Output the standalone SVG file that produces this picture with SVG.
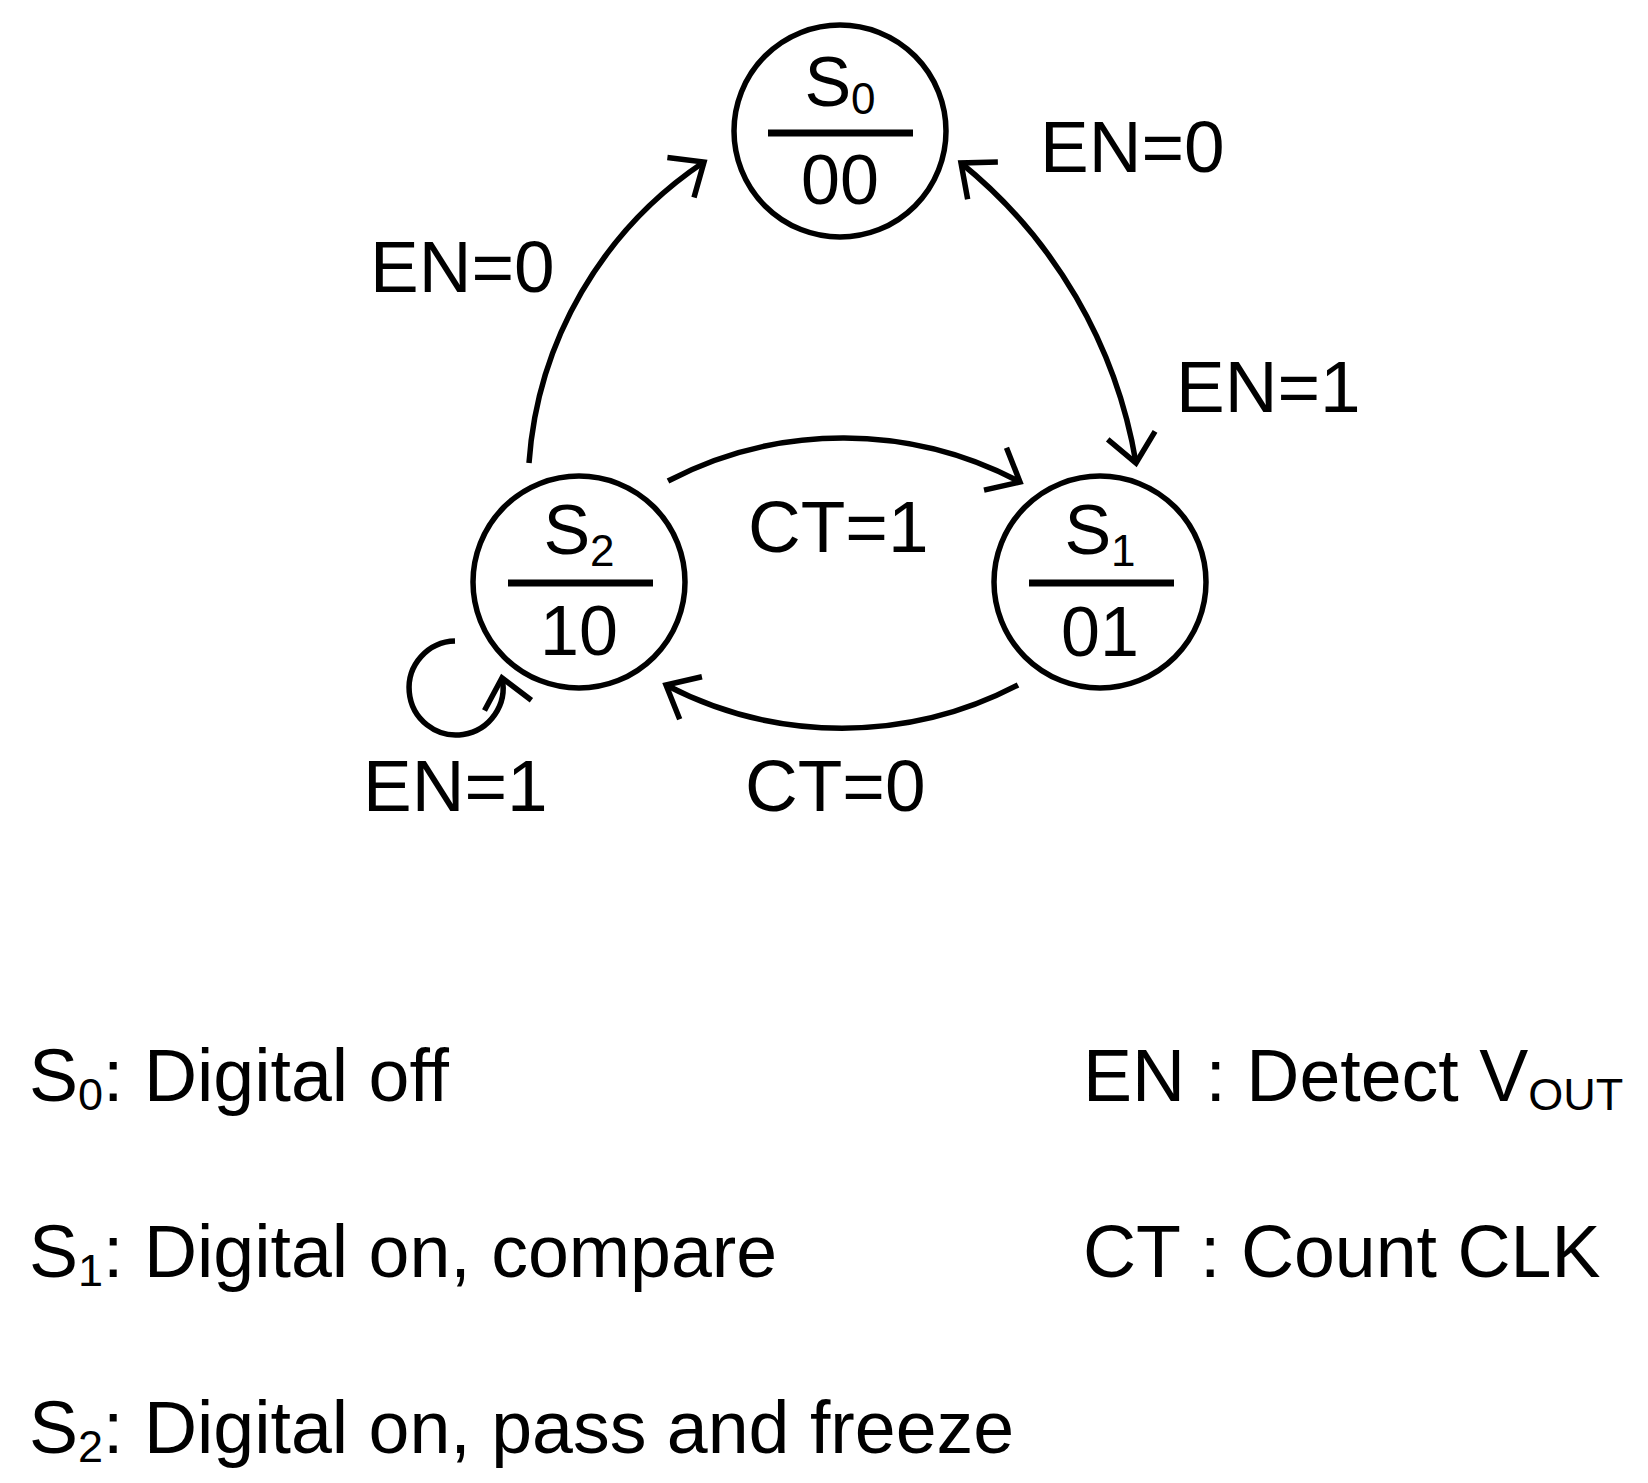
<svg xmlns="http://www.w3.org/2000/svg" width="1648" height="1483" viewBox="0 0 1648 1483">
<style>
text{font-family:"Liberation Sans",Arial,sans-serif;fill:#000}
.st{fill:#fff;stroke:#000;stroke-width:5.5}
.dv{stroke:#000;stroke-width:7}
.nt{font-size:70px}
.sub{font-size:44px}
.lb{font-size:73px}
.lg{font-size:73.5px}
.lgs{font-size:45px}
.cn{fill:none;stroke:#000;stroke-width:5.5}
</style>
<defs>
<marker id="ah" markerUnits="userSpaceOnUse" markerWidth="80" markerHeight="80" viewBox="-40 -40 80 80" refX="0" refY="0" orient="auto-start-reverse">
<path d="M-28,-24 L0,0 L-28,24" fill="none" stroke="#000" stroke-width="5.5" stroke-linejoin="miter"/>
</marker>
</defs>
<rect width="1648" height="1483" fill="#fff"/>
<g id="connectors">
<path class="cn" d="M529,463 A395,395 0 0 1 704,162" marker-end="url(#ah)"/>
<path class="cn" d="M961,163 A490,490 0 0 1 1136,463" marker-start="url(#ah)" marker-end="url(#ah)"/>
<path class="cn" d="M668,481 A378,378 0 0 1 1020,482" marker-end="url(#ah)"/>
<path class="cn" d="M1018,685 A380,380 0 0 1 666,685" marker-end="url(#ah)"/>
<path class="cn" d="M455,641 A47,47 0 1 0 502,678" marker-end="url(#ah)"/>
</g>
<g id="S0">
<circle class="st" cx="840" cy="131" r="106"/>
<line class="dv" x1="768" y1="133" x2="913" y2="133"/>
<text class="nt" x="840" y="106" text-anchor="middle">S<tspan class="sub" dy="8">0</tspan></text>
<text class="nt" x="840" y="204" text-anchor="middle">00</text>
</g>
<g id="S1">
<circle class="st" cx="1100" cy="582" r="106"/>
<line class="dv" x1="1029" y1="583" x2="1174" y2="583"/>
<text class="nt" x="1100" y="554" text-anchor="middle">S<tspan class="sub" dy="12">1</tspan></text>
<text class="nt" x="1100" y="656" text-anchor="middle">01</text>
</g>
<g id="S2">
<circle class="st" cx="579" cy="582" r="106"/>
<line class="dv" x1="508" y1="583" x2="653" y2="583"/>
<text class="nt" x="579" y="554" text-anchor="middle">S<tspan class="sub" dy="12">2</tspan></text>
<text class="nt" x="579" y="655" text-anchor="middle">10</text>
</g>
<g id="labels">
<text class="lb" x="370" y="292">EN=0</text>
<text class="lb" x="1040" y="172">EN=0</text>
<text class="lb" x="1176" y="412">EN=1</text>
<text class="lb" x="748" y="552">CT=1</text>
<text class="lb" x="745" y="811">CT=0</text>
<text class="lb" x="363" y="811">EN=1</text>
</g>
<g id="legend">
<text class="lg" x="29" y="1101">S<tspan class="lgs" dy="9">0</tspan><tspan dy="-9">: Digital off</tspan></text>
<text class="lg" x="29" y="1277">S<tspan class="lgs" dy="9">1</tspan><tspan dy="-9">: Digital on, compare</tspan></text>
<text class="lg" x="29" y="1453">S<tspan class="lgs" dy="9">2</tspan><tspan dy="-9">: Digital on, pass and freeze</tspan></text>
<text class="lg" x="1083" y="1101">EN : Detect V<tspan class="lgs" dy="9">OUT</tspan></text>
<text class="lg" x="1083" y="1277">CT : Count CLK</text>
</g>
</svg>
